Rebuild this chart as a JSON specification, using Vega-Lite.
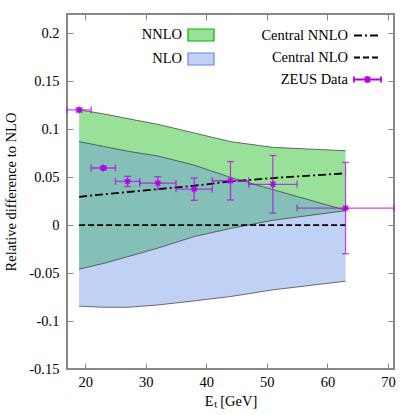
{
  "$schema": "https://vega.github.io/schema/vega-lite/v6.json",
  "width": 327,
  "height": 355,
  "autosize": {"type": "none"},
  "padding": {"left": 67, "top": 14, "right": 21, "bottom": 46},
  "config": {
    "font": "Liberation Serif",
    "view": {"stroke": "#888888", "strokeWidth": 2},
    "axis": {
      "grid": false,
      "domain": false,
      "tickColor": "#888888",
      "tickSize": -6,
      "tickWidth": 1,
      "labelFont": "Liberation Serif",
      "labelFontSize": 14.5,
      "labelColor": "black",
      "titleFont": "Liberation Serif",
      "titleFontSize": 14.5,
      "titleFontWeight": "normal",
      "titleColor": "black"
    },
    "legend": {
      "labelFont": "Liberation Serif",
      "labelFontSize": 14.5,
      "labelColor": "black"
    }
  },
  "datasets": {
    "bands": [
      {"band": "NNLO", "x": 19, "lo": -0.046, "hi": 0.120},
      {"band": "NNLO", "x": 23, "lo": -0.040, "hi": 0.116},
      {"band": "NNLO", "x": 27, "lo": -0.033, "hi": 0.111},
      {"band": "NNLO", "x": 32, "lo": -0.024, "hi": 0.105},
      {"band": "NNLO", "x": 38, "lo": -0.012, "hi": 0.096},
      {"band": "NNLO", "x": 44, "lo": -0.0035, "hi": 0.087},
      {"band": "NNLO", "x": 51, "lo": 0.005, "hi": 0.081},
      {"band": "NNLO", "x": 63, "lo": 0.015, "hi": 0.0775},
      {"band": "NLO", "x": 19, "lo": -0.0845, "hi": 0.087},
      {"band": "NLO", "x": 23, "lo": -0.0857, "hi": 0.082},
      {"band": "NLO", "x": 27, "lo": -0.0857, "hi": 0.077},
      {"band": "NLO", "x": 32, "lo": -0.0833, "hi": 0.072},
      {"band": "NLO", "x": 38, "lo": -0.079, "hi": 0.0625},
      {"band": "NLO", "x": 44, "lo": -0.0745, "hi": 0.0497},
      {"band": "NLO", "x": 51, "lo": -0.0675, "hi": 0.037},
      {"band": "NLO", "x": 63, "lo": -0.0585, "hi": 0.0155}
    ],
    "central": [
      {"series": "Central NNLO", "x": 19, "v": 0.0295},
      {"series": "Central NNLO", "x": 23, "v": 0.032},
      {"series": "Central NNLO", "x": 27, "v": 0.0345},
      {"series": "Central NNLO", "x": 32, "v": 0.0375},
      {"series": "Central NNLO", "x": 38, "v": 0.041},
      {"series": "Central NNLO", "x": 44, "v": 0.0455},
      {"series": "Central NNLO", "x": 51, "v": 0.049},
      {"series": "Central NNLO", "x": 63, "v": 0.054},
      {"series": "Central NLO", "x": 19, "v": 0},
      {"series": "Central NLO", "x": 63, "v": 0}
    ],
    "zeus": [
      {"series": "ZEUS Data", "x": 19, "y": 0.120, "ylo": 0.118, "yhi": 0.122, "xlo": 17, "xhi": 21},
      {"series": "ZEUS Data", "x": 23, "y": 0.0595, "ylo": 0.0575, "yhi": 0.0615, "xlo": 21, "xhi": 25},
      {"series": "ZEUS Data", "x": 27, "y": 0.0455, "ylo": 0.0402, "yhi": 0.0508, "xlo": 25, "xhi": 29},
      {"series": "ZEUS Data", "x": 32, "y": 0.0437, "ylo": 0.037, "yhi": 0.0504, "xlo": 29, "xhi": 35},
      {"series": "ZEUS Data", "x": 38, "y": 0.0375, "ylo": 0.0258, "yhi": 0.0492, "xlo": 35, "xhi": 41},
      {"series": "ZEUS Data", "x": 44, "y": 0.0462, "ylo": 0.0262, "yhi": 0.0662, "xlo": 41, "xhi": 47},
      {"series": "ZEUS Data", "x": 51, "y": 0.0425, "ylo": 0.0125, "yhi": 0.0725, "xlo": 47, "xhi": 55},
      {"series": "ZEUS Data", "x": 63, "y": 0.0177, "ylo": -0.0299, "yhi": 0.0653, "xlo": 55, "xhi": 71}
    ]
  },
  "layer": [
    {
      "data": {"name": "bands"},
      "transform": [{"filter": "datum.band == 'NNLO'"}],
      "mark": {"type": "area", "fillOpacity": 0.4},
      "encoding": {
        "x": {"field": "x", "type": "quantitative",
          "scale": {"domain": [17, 71], "nice": false, "zero": false},
          "axis": {"orient": "bottom", "values": [20, 30, 40, 50, 60, 70], "title": "Eₜ [GeV]", "labelPadding": 12, "titlePadding": 6}},
        "y": {"field": "lo", "type": "quantitative",
          "scale": {"domain": [-0.15, 0.22], "nice": false, "zero": false},
          "axis": {"orient": "left", "values": [-0.15, -0.1, -0.05, 0, 0.05, 0.1, 0.15, 0.2], "labelExpr": "'' + datum.value", "title": "Relative difference to NLO", "labelPadding": 14, "titlePadding": 10}},
        "y2": {"field": "hi"},
        "fill": {"field": "band", "type": "nominal",
          "scale": {"domain": ["NNLO", "NLO"], "range": ["#00b400", "#648ce6"]},
          "legend": {
            "orient": "none", "legendX": 120, "legendY": 7, "title": null,
            "direction": "vertical",
            "symbolType": "M-1,-0.46L1,-0.46L1,0.46L-1,0.46Z",
            "symbolSize": 676,
            "symbolStrokeWidth": 1.2,
            "labelAlign": "right",
            "labelOffset": -33,
            "rowPadding": 1,
            "encode": {"symbols": {"update": {"fillOpacity": {"value": 0.4}, "strokeOpacity": {"value": 1}, "opacity": {"value": 1}, "stroke": {"scale": "fill", "field": "value"}}}}
          }}
      }
    },
    {
      "data": {"name": "bands"},
      "transform": [{"filter": "datum.band == 'NLO'"}],
      "mark": {"type": "area", "fillOpacity": 0.4},
      "encoding": {
        "x": {"field": "x", "type": "quantitative",
          "axis": {"orient": "top", "values": [20, 30, 40, 50, 60, 70], "labels": false, "title": null}},
        "y": {"field": "lo", "type": "quantitative",
          "axis": {"orient": "right", "values": [-0.15, -0.1, -0.05, 0, 0.05, 0.1, 0.15, 0.2], "labels": false, "title": null}},
        "y2": {"field": "hi"},
        "fill": {"field": "band", "type": "nominal"}
      }
    },
    {
      "data": {"name": "bands"},
      "mark": {"type": "line", "color": "#333333", "strokeWidth": 0.7},
      "encoding": {
        "x": {"field": "x", "type": "quantitative", "axis": null},
        "y": {"field": "hi", "type": "quantitative", "axis": null},
        "detail": {"field": "band"}
      }
    },
    {
      "data": {"name": "bands"},
      "mark": {"type": "line", "color": "#333333", "strokeWidth": 0.7},
      "encoding": {
        "x": {"field": "x", "type": "quantitative", "axis": null},
        "y": {"field": "lo", "type": "quantitative", "axis": null},
        "detail": {"field": "band"}
      }
    },
    {
      "data": {"name": "central"},
      "mark": {"type": "line", "strokeWidth": 1.8},
      "encoding": {
        "x": {"field": "x", "type": "quantitative", "axis": null},
        "y": {"field": "v", "type": "quantitative", "axis": null},
        "stroke": {"field": "series", "type": "nominal",
          "scale": {"domain": ["Central NNLO", "Central NLO", "ZEUS Data"], "range": ["black", "black", "#b400e6"]},
          "legend": {
            "orient": "none", "legendX": 286, "legendY": 7, "title": null,
            "direction": "vertical",
            "symbolType": "stroke",
            "symbolSize": 729,
            "symbolStrokeWidth": 1.8,
            "labelAlign": "right",
            "labelOffset": -34,
            "rowPadding": 1,
            "encode": {"symbols": {"update": {"shape": {"signal": "datum.label == 'ZEUS Data' ? 'M-1,0L1,0M-1,-0.22L-1,0.22M1,-0.22L1,0.22M-0.2,-0.2L0.2,0.2M-0.2,0.2L0.2,-0.2M0,-0.26L0,0.26' : 'stroke'"}}}}
          }},
        "strokeDash": {"field": "series", "type": "nominal",
          "scale": {"domain": ["Central NNLO", "Central NLO", "ZEUS Data"], "range": [[8, 3, 2, 3], [6, 3], [1, 0]]},
          "legend": {
            "orient": "none", "legendX": 286, "legendY": 7, "title": null,
            "direction": "vertical",
            "symbolType": "stroke",
            "symbolSize": 729,
            "symbolStrokeWidth": 1.8,
            "labelAlign": "right",
            "labelOffset": -34,
            "rowPadding": 1,
            "encode": {"symbols": {"update": {"shape": {"signal": "datum.label == 'ZEUS Data' ? 'M-1,0L1,0M-1,-0.22L-1,0.22M1,-0.22L1,0.22M-0.2,-0.2L0.2,0.2M-0.2,0.2L0.2,-0.2M0,-0.26L0,0.26' : 'stroke'"}}}}
          }}
      }
    },
    {
      "data": {"name": "zeus"},
      "mark": {"type": "rule", "strokeWidth": 1.3, "opacity": 0.7},
      "encoding": {
        "x": {"field": "xlo", "type": "quantitative", "axis": null},
        "x2": {"field": "xhi"},
        "y": {"field": "y", "type": "quantitative", "axis": null},
        "stroke": {"field": "series", "type": "nominal"},
        "strokeDash": {"field": "series", "type": "nominal"}
      }
    },
    {
      "data": {"name": "zeus"},
      "mark": {"type": "rule", "strokeWidth": 1.3, "opacity": 0.7, "color": "#b400e6"},
      "encoding": {
        "x": {"field": "x", "type": "quantitative", "axis": null},
        "y": {"field": "ylo", "type": "quantitative", "axis": null},
        "y2": {"field": "yhi"}
      }
    },
    {
      "data": {"name": "zeus"},
      "mark": {"type": "tick", "orient": "horizontal", "size": 7, "thickness": 1.3, "opacity": 0.7, "color": "#b400e6"},
      "encoding": {
        "x": {"field": "x", "type": "quantitative", "axis": null},
        "y": {"field": "ylo", "type": "quantitative", "axis": null}
      }
    },
    {
      "data": {"name": "zeus"},
      "mark": {"type": "tick", "orient": "horizontal", "size": 7, "thickness": 1.3, "opacity": 0.7, "color": "#b400e6"},
      "encoding": {
        "x": {"field": "x", "type": "quantitative", "axis": null},
        "y": {"field": "yhi", "type": "quantitative", "axis": null}
      }
    },
    {
      "data": {"name": "zeus"},
      "mark": {"type": "tick", "orient": "vertical", "size": 7, "thickness": 1.3, "opacity": 0.7, "color": "#b400e6"},
      "encoding": {
        "x": {"field": "xlo", "type": "quantitative", "axis": null},
        "y": {"field": "y", "type": "quantitative", "axis": null}
      }
    },
    {
      "data": {"name": "zeus"},
      "mark": {"type": "tick", "orient": "vertical", "size": 7, "thickness": 1.3, "opacity": 0.7, "color": "#b400e6"},
      "encoding": {
        "x": {"field": "xhi", "type": "quantitative", "axis": null},
        "y": {"field": "y", "type": "quantitative", "axis": null}
      }
    },
    {
      "data": {"name": "zeus"},
      "mark": {"type": "point", "shape": "M-1,0L1,0M0,-1L0,1M-0.7,-0.7L0.7,0.7M-0.7,0.7L0.7,-0.7", "filled": false, "size": 50, "strokeWidth": 1.3, "color": "#b400e6", "opacity": 1},
      "encoding": {
        "x": {"field": "x", "type": "quantitative", "axis": null},
        "y": {"field": "y", "type": "quantitative", "axis": null}
      }
    }
  ],
  "resolve": {"axis": {"x": "independent", "y": "independent"}}
}
